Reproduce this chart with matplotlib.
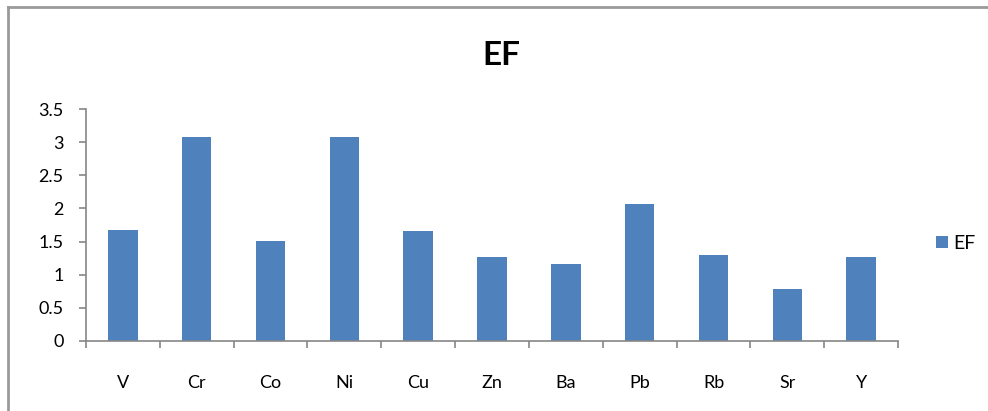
import matplotlib
matplotlib.use("Agg")
import matplotlib.pyplot as plt
from matplotlib.lines import Line2D
import numpy as np

# -------------------------------------------------------
# Data.
# -------------------------------------------------------
elements = ["V", "Cr", "Co", "Ni", "Cu", "Zn", "Ba", "Pb", "Rb", "Sr", "Y"]
ef_values = [1.68, 3.08, 1.51, 3.08, 1.66, 1.27, 1.16, 2.07, 1.30, 0.78, 1.27]
y_ticks = [0, 0.5, 1, 1.5, 2, 2.5, 3, 3.5]
y_tick_labels = ["0", "0.5", "1", "1.5", "2", "2.5", "3", "3.5"]

plt.rcParams['font.family'] = ['Lato', 'DejaVu Sans']

fig = plt.figure(figsize=(9.88, 4.11), dpi=100)
ax = fig.add_axes([0.087, 0.171, 0.822, 0.563])

x = np.arange(len(elements))
ax.bar(x, ef_values, width=0.4, color="#4F81BD", label="EF")

ax.set_xlim(-0.5, len(elements) - 0.5)
ax.set_ylim(0, 3.5)
ax.set_yticks(y_ticks)
ax.set_yticklabels(y_tick_labels, fontsize=13)
ax.set_xticks(x)
ax.set_xticklabels(elements, fontsize=13)
ax.set_xticks(np.arange(-0.5, len(elements), 1), minor=True)

axis_grey = "#868686"
for side in ["top", "right"]:
    ax.spines[side].set_visible(False)
for side in ["left", "bottom"]:
    ax.spines[side].set_color(axis_grey)
    ax.spines[side].set_linewidth(1.2)

ax.tick_params(axis="x", which="major", length=0, pad=25)
ax.tick_params(axis="x", which="minor", length=5, color=axis_grey, width=1.2)
ax.tick_params(axis="y", length=5, color=axis_grey, width=1.2, pad=11)

fig.text(0.507, 0.865, "EF", ha="center", va="center", fontsize=24, fontweight="bold")

ax.legend(loc="center left", bbox_to_anchor=(1.025, 0.42), frameon=False,
          fontsize=14, handlelength=0.6, handleheight=0.6, handletextpad=0.3)

# outer chart border (top and left edges only visible)
border = "#9a9a9a"
fig.add_artist(Line2D([0.008, 1.0], [0.982, 0.982], transform=fig.transFigure,
                      color=border, linewidth=2))
fig.add_artist(Line2D([0.008, 0.008], [0.0, 0.982], transform=fig.transFigure,
                      color=border, linewidth=2))

fig.savefig("out.png", dpi=100)
